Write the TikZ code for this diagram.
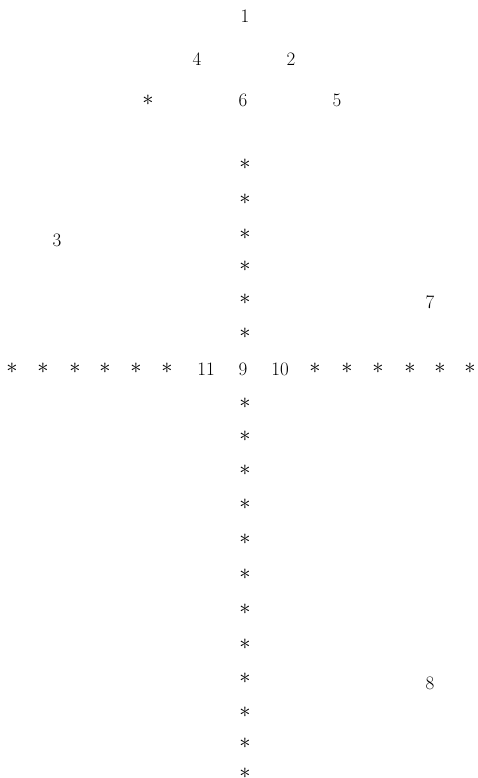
\documentclass[tikz,border=0pt]{standalone}
\usepackage{amsmath}

\begin{document}
\begin{tikzpicture}[x=1pt, y=-1pt, font=\fontsize{19}{22}\selectfont]
    \tikzset{asterisk/.style={inner sep=0pt, scale=1.3}, num/.style={inner sep=0pt}}
    \useasboundingbox (0,0) rectangle (477,778);

    \node[num] (n1) at (245,16) {1};
    \node[num] (n4) at (197,59) {4};
    \node[num] (n2) at (291,59) {2};
    \node[asterisk] (a0) at (148,100) {$\ast$};
    \node[num] (n6) at (243,100) {6};
    \node[num] (n5) at (337,100) {5};

    \node[num] (n3) at (57,240) {3};
    \node[num] (n7) at (430,302) {7};
    \node[num] (n8) at (430,683) {8};

    \foreach \y [count=\i] in {164,199,234,266,299,333}
        \node[asterisk] (up\i) at (245,\y) {$\ast$};

    \foreach \x [count=\i] in {12,43,75,105,136,167}
        \node[asterisk] (lt\i) at (\x,368) {$\ast$};
    \node[num] (n11) at (206,369) {11};
    \node[num] (n9) at (243,369) {9};
    \node[num] (n10) at (280,369) {10};
    \foreach \x [count=\i] in {315,347,378,410,440,470}
        \node[asterisk] (rt\i) at (\x,368) {$\ast$};

    \foreach \y [count=\i] in {403,436,470,504,539,574,609,644,678,712,743,773}
        \node[asterisk] (dn\i) at (245,\y) {$\ast$};
\end{tikzpicture}
\end{document}
